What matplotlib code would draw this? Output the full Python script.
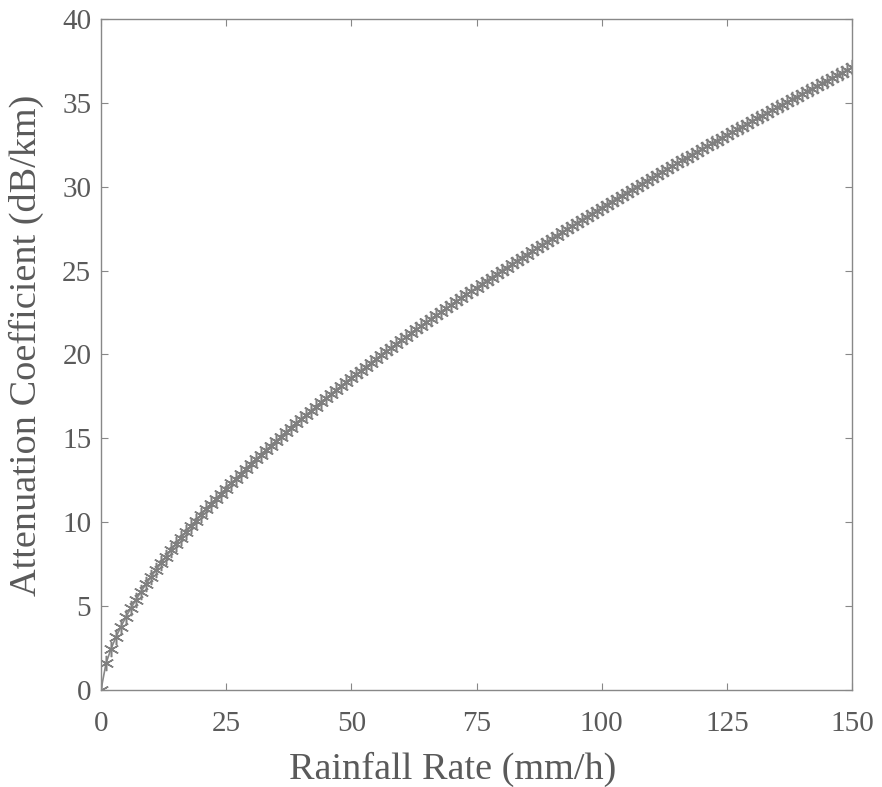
import matplotlib
matplotlib.use('Agg')
import matplotlib.pyplot as plt

# Rainfall rate (mm/h), one point per mm/h
rain = list(range(0, 151))

# Attenuation coefficient (dB/km)
atten = [
    0.00, 1.58, 2.45, 3.16, 3.78, 4.36, 4.89, 5.38, 5.86, 6.31,
    6.74, 7.16, 7.56, 7.95, 8.33, 8.70, 9.06, 9.42, 9.76, 10.10,
    10.43, 10.76, 11.08, 11.39, 11.70, 12.00, 12.31, 12.60, 12.89, 13.18,
    13.47, 13.75, 14.02, 14.30, 14.57, 14.84, 15.10, 15.37, 15.63, 15.89,
    16.14, 16.39, 16.65, 16.89, 17.14, 17.38, 17.63, 17.87, 18.11, 18.34,
    18.58, 18.81, 19.04, 19.27, 19.50, 19.73, 19.95, 20.18, 20.40, 20.62,
    20.84, 21.06, 21.27, 21.49, 21.70, 21.92, 22.13, 22.34, 22.55, 22.76,
    22.97, 23.17, 23.38, 23.58, 23.78, 23.98, 24.19, 24.39, 24.58, 24.78,
    24.98, 25.18, 25.37, 25.56, 25.76, 25.95, 26.14, 26.33, 26.52, 26.71,
    26.90, 27.09, 27.28, 27.46, 27.65, 27.83, 28.02, 28.20, 28.38, 28.56,
    28.75, 28.93, 29.11, 29.29, 29.47, 29.65, 29.82, 30.00, 30.17, 30.35,
    30.53, 30.70, 30.88, 31.05, 31.22, 31.39, 31.57, 31.74, 31.91, 32.08,
    32.25, 32.42, 32.58, 32.75, 32.92, 33.09, 33.25, 33.42, 33.58, 33.75,
    33.91, 34.08, 34.24, 34.40, 34.57, 34.73, 34.89, 35.05, 35.21, 35.37,
    35.53, 35.69, 35.85, 36.01, 36.17, 36.33, 36.49, 36.64, 36.80, 36.96,
    37.11,
]

xticks = [0, 25, 50, 75, 100, 125, 150]
yticks = [0, 5, 10, 15, 20, 25, 30, 35, 40]

txt = '#5a5a5a'
plt.rcParams['font.family'] = ['Liberation Serif', 'DejaVu Serif']

fig = plt.figure(figsize=(8.82, 7.87), dpi=100)
ax = fig.add_axes([0.1145, 0.1233, 0.8515, 0.8526])

# MATLAB style '*' marker: six-armed asterisk
ax.plot(rain, atten, color='#888888', lw=1.2, marker=(6, 2, 0), ms=11, mew=1.1,
        markeredgecolor='#808080')

ax.set_xlim(0, 150)
ax.set_ylim(0, 40)
ax.set_xticks(xticks)
ax.set_yticks(yticks)
ax.tick_params(direction='in', top=True, right=True, length=5, width=0.8,
               colors='#888888', labelcolor=txt, labelsize=21)
ax.tick_params(axis='x', pad=15)
ax.tick_params(axis='y', pad=7)
for s in ax.spines.values():
    s.set_color('#888888')
    s.set_linewidth(1.0)

ax.set_xlabel('Rainfall Rate (mm/h)', fontsize=27.5, color=txt)
ax.set_ylabel('Attenuation Coefficient (dB/km)', fontsize=27.5, color=txt)
ax.xaxis.set_label_coords(0.468, -0.092)
ax.yaxis.set_label_coords(-0.076, 0.513)

fig.savefig('out.png', dpi=100)
